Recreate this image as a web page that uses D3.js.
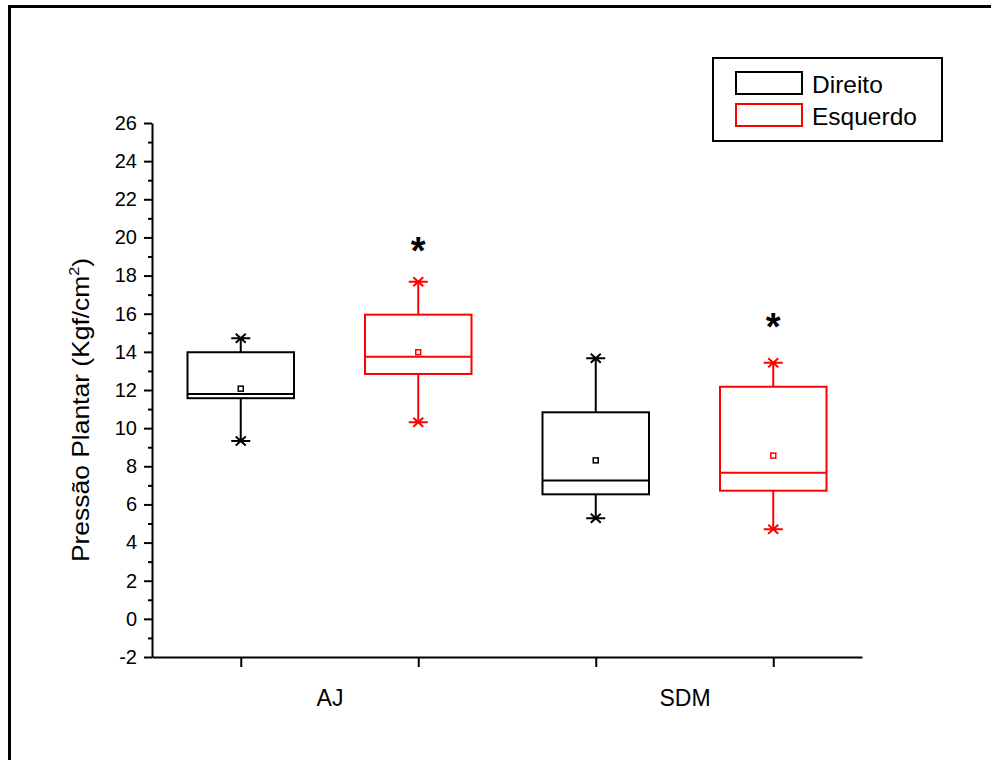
<!DOCTYPE html>
<html>
<head>
<meta charset="utf-8">
<script src="https://cdn.jsdelivr.net/npm/d3@7"></script>
<style>
    body { margin: 0; background: #fff; }
    svg { display: block; }
    text { font-family: "Liberation Sans", Arial, sans-serif; }
</style>
</head>
<body>
<script>
// Box plot of plantar pressure, right (Direito) vs left (Esquerdo) foot
// for two groups.

var categories = ["AJ", "SDM"];
var seriesNames = ["Direito", "Esquerdo"];

// one entry per category, same order as categories
var direitoMin    = [9.33, 5.27];
var direitoQ1     = [11.57, 6.53];
var direitoMedian = [11.79, 7.25];
var direitoQ3     = [13.98, 10.83];
var direitoMax    = [14.71, 13.66];
var direitoMean   = [12.07, 8.31];

var esquerdoMin    = [10.31, 4.70];
var esquerdoQ1     = [12.84, 6.72];
var esquerdoMedian = [13.75, 7.66];
var esquerdoQ3     = [15.95, 12.17];
var esquerdoMax    = [17.68, 13.43];
var esquerdoMean   = [13.98, 8.56];

// significance marks: category, series, y value of the "*"
var sigCategory = ["AJ", "SDM"];
var sigSeries   = ["Esquerdo", "Esquerdo"];
var sigValue    = [19.53, 15.57];

var yTicks = [-2, 0, 2, 4, 6, 8, 10, 12, 14, 16, 18, 20, 22, 24, 26];
var yMinorTicks = [-1, 1, 3, 5, 7, 9, 11, 13, 15, 17, 19, 21, 23, 25];

var colors = {"Direito": "#000000", "Esquerdo": "#ff0000"};

// build the box records from the arrays
var boxes = [];
categories.forEach(function(c, i) {
    boxes.push({cat: c, ci: i, s: "Direito", si: 0,
        min: direitoMin[i], q1: direitoQ1[i], median: direitoMedian[i],
        q3: direitoQ3[i], max: direitoMax[i], mean: direitoMean[i]});
    boxes.push({cat: c, ci: i, s: "Esquerdo", si: 1,
        min: esquerdoMin[i], q1: esquerdoQ1[i], median: esquerdoMedian[i],
        q3: esquerdoQ3[i], max: esquerdoMax[i], mean: esquerdoMean[i]});
});

var W = 991, H = 760;
var plot = {left: 152, right: 862, top: 123, bottom: 657};

var svg = d3.select("body").append("svg")
    .attr("width", W)
    .attr("height", H);

// page frame (runs off the right and bottom edge)
svg.append("path")
    .attr("d", "M9.5," + H + "V6.5H" + W)
    .attr("fill", "none")
    .attr("stroke", "#000")
    .attr("stroke-width", 3);

// x positions: each category takes 2 units, box centres at .5 and 1.5
var x = d3.scaleLinear().domain([0, categories.length * 2])
    .range([plot.left, plot.right]);
var y = d3.scaleLinear().domain([-2, 26])
    .range([plot.bottom, plot.top]);

function boxX(d) { return d.ci * 2 + d.si + 0.5; }
var halfW = 0.3; // half box width, in x units

// y axis, major + minor (plain hyphen for negatives)
var yAxis = d3.axisLeft(y).tickValues(yTicks).tickSize(8)
    .tickSizeOuter(0).tickPadding(7)
    .tickFormat(function(v) { return String(v); });
var gy = svg.append("g")
    .attr("transform", "translate(" + plot.left + ",0)")
    .call(yAxis);
gy.selectAll("text").attr("font-size", "20px").attr("fill", "#000")
    .style("font-family", "'Liberation Sans', Arial, sans-serif");

svg.append("g")
    .attr("transform", "translate(" + plot.left + ",0)")
    .call(d3.axisLeft(y).tickValues(yMinorTicks).tickSize(4)
        .tickSizeOuter(0).tickFormat(""))
    .select(".domain").remove();

// x axis: ticks at each box, labels at category centres
var boxCentres = boxes.map(boxX);
svg.append("g")
    .attr("transform", "translate(0," + plot.bottom + ")")
    .call(d3.axisBottom(x).tickValues(boxCentres).tickSize(10)
        .tickSizeOuter(0).tickFormat(""));

var gx = svg.append("g")
    .attr("transform", "translate(0," + plot.bottom + ")")
    .call(d3.axisBottom(x).tickValues(categories.map(function(c, i) {
            return i * 2 + 1; }))
        .tickSize(0).tickPadding(33)
        .tickFormat(function(v) { return categories[(v - 1) / 2]; }));
gx.select(".domain").remove();
gx.selectAll("text").attr("font-size", "23px").attr("fill", "#000")
    .style("font-family", "'Liberation Sans', Arial, sans-serif");

svg.selectAll(".domain, .tick line")
    .attr("stroke", "#000")
    .attr("stroke-width", 2);

// y axis title (slightly stretched along its length like the original)
var title = svg.append("text")
    .attr("transform", "translate(89,410) rotate(-90) scale(1.15,1)")
    .attr("text-anchor", "middle")
    .attr("font-size", "23px");
title.append("tspan").text("Pressão Plantar (Kgf/cm");
title.append("tspan").attr("dy", "-10").attr("font-size", "14px").text("2");
title.append("tspan").attr("dy", "10").text(")");

// boxes
var g = svg.selectAll(".box")
    .data(boxes)
    .enter()
    .append("g")
    .attr("class", "box")
    .attr("stroke", function(d) { return colors[d.s]; })
    .attr("fill", "none")
    .attr("stroke-width", 2);

// whiskers
g.append("line")
    .attr("x1", function(d) { return x(boxX(d)); })
    .attr("x2", function(d) { return x(boxX(d)); })
    .attr("y1", function(d) { return y(d.q3); })
    .attr("y2", function(d) { return y(d.max); });
g.append("line")
    .attr("x1", function(d) { return x(boxX(d)); })
    .attr("x2", function(d) { return x(boxX(d)); })
    .attr("y1", function(d) { return y(d.q1); })
    .attr("y2", function(d) { return y(d.min); });

g.append("rect")
    .attr("x", function(d) { return x(boxX(d) - halfW); })
    .attr("width", function(d) { return x(boxX(d) + halfW) - x(boxX(d) - halfW); })
    .attr("y", function(d) { return y(d.q3); })
    .attr("height", function(d) { return y(d.q1) - y(d.q3); });

g.append("line")
    .attr("x1", function(d) { return x(boxX(d) - halfW); })
    .attr("x2", function(d) { return x(boxX(d) + halfW); })
    .attr("y1", function(d) { return y(d.median); })
    .attr("y2", function(d) { return y(d.median); });

// mean marker: small open square
g.append("rect")
    .attr("stroke-width", 1.5)
    .attr("x", function(d) { return x(boxX(d)) - 2.5; })
    .attr("y", function(d) { return y(d.mean) - 2.5; })
    .attr("width", 5)
    .attr("height", 5);

// min / max star markers
function star(sel, key) {
    sel.append("path")
        .attr("d", function(d) {
            var cx = x(boxX(d)), cy = y(d[key]);
            return "M" + (cx - 9.5) + "," + cy + "H" + (cx + 9.5) +
                "M" + (cx - 5) + "," + (cy - 4.5) + "L" + (cx + 5) + "," + (cy + 4.5) +
                "M" + (cx - 5) + "," + (cy + 4.5) + "L" + (cx + 5) + "," + (cy - 4.5);
        });
}
star(g, "max");
star(g, "min");

// significance asterisks
svg.selectAll(".sig")
    .data(sigValue)
    .enter()
    .append("text")
    .attr("class", "sig")
    .attr("text-anchor", "middle")
    .attr("font-size", "38px")
    .attr("font-weight", "bold")
    .attr("x", function(d, i) {
        return x(categories.indexOf(sigCategory[i]) * 2 +
            seriesNames.indexOf(sigSeries[i]) + 0.5);
    })
    .attr("y", function(d) { return y(d) + 18; })
    .text("*");

// legend
var legend = svg.append("g").attr("transform", "translate(713,58)");
legend.append("rect")
    .attr("width", 229).attr("height", 83)
    .attr("fill", "none").attr("stroke", "#000").attr("stroke-width", 2);
var li = legend.selectAll(".li")
    .data(seriesNames)
    .enter()
    .append("g")
    .attr("transform", function(d, i) { return "translate(23," + (14 + i * 32) + ")"; });
li.append("rect")
    .attr("width", 66).attr("height", 22)
    .attr("fill", "none").attr("stroke-width", 2)
    .attr("stroke", function(d) { return colors[d]; });
li.append("text")
    .attr("x", 76).attr("y", 21)
    .attr("font-size", "24.5px")
    .text(function(d) { return d; });
</script>
</body>
</html>
